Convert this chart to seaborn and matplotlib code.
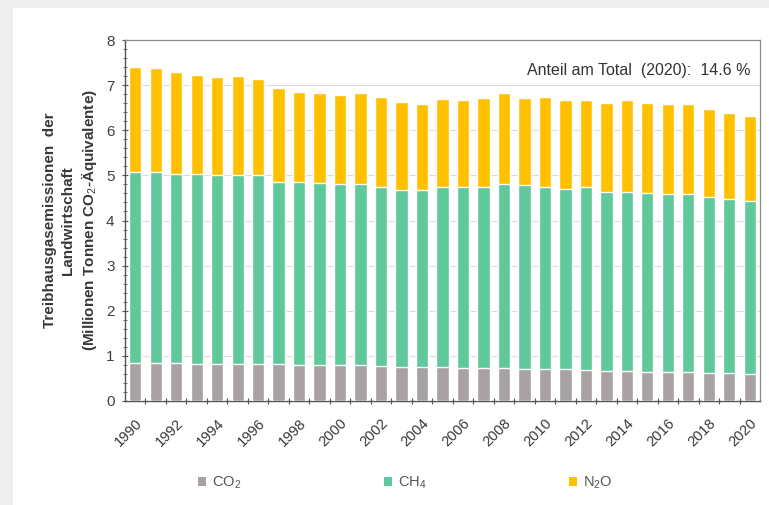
import matplotlib
matplotlib.use("Agg")
import matplotlib.pyplot as plt
import matplotlib.patches as mpatches
from matplotlib.ticker import MultipleLocator, FixedLocator
import numpy as np
import pandas as pd
import seaborn as sns

years = list(range(1990, 2021))
co2 = [0.85, 0.84, 0.84, 0.83, 0.82, 0.82, 0.82, 0.81, 0.80, 0.80, 0.79,
       0.79, 0.77, 0.76, 0.75, 0.75, 0.74, 0.73, 0.73, 0.71, 0.71, 0.70,
       0.69, 0.67, 0.66, 0.65, 0.64, 0.64, 0.62, 0.61, 0.60]
co2_ch4 = [5.07, 5.08, 5.04, 5.02, 5.00, 5.00, 5.00, 4.85, 4.85, 4.83, 4.80,
           4.80, 4.74, 4.67, 4.67, 4.74, 4.74, 4.74, 4.81, 4.78, 4.74, 4.70,
           4.74, 4.63, 4.63, 4.62, 4.59, 4.58, 4.52, 4.48, 4.44]
total = [7.41, 7.37, 7.30, 7.22, 7.18, 7.20, 7.13, 6.93, 6.85, 6.82, 6.78,
         6.82, 6.74, 6.63, 6.59, 6.69, 6.68, 6.72, 6.82, 6.72, 6.74, 6.68,
         6.68, 6.61, 6.67, 6.61, 6.58, 6.58, 6.47, 6.38, 6.31]
series_labels = ["CO$_2$", "CH$_4$", "N$_2$O"]
colors = ["#a8a2a2", "#5fc99b", "#ffc000"]
ylabel = "Treibhausgasemissionen  der\nLandwirtschaft\n(Millionen Tonnen CO$_2$-Äquivalente)"
note = "Anteil am Total  (2020):  14.6 %"

df = pd.DataFrame({"year": [str(y) for y in years], "co2": co2,
                   "co2_ch4": co2_ch4, "total": total})

sns.set_theme(style="white")
plt.rcParams["font.family"] = ["Liberation Sans", "DejaVu Sans"]
plt.rcParams["mathtext.fontset"] = "custom"
plt.rcParams["mathtext.rm"] = "Liberation Sans"
plt.rcParams["mathtext.it"] = "Liberation Sans"
plt.rcParams["mathtext.bf"] = "Liberation Sans:bold"

fig = plt.figure(figsize=(7.69, 5.05), dpi=100, facecolor="#efefef")
card = mpatches.Rectangle((13 / 769, 0), 1, 1 - 8 / 505, transform=fig.transFigure,
                          facecolor="white", edgecolor="none", zorder=-10)
fig.patches.append(card)

ax = fig.add_axes([125 / 769, 1 - 401 / 505, 635 / 769, 361 / 505])
ax.set_zorder(5)
ax.set_facecolor("white")

sns.barplot(data=df, x="year", y="total", color=colors[2], width=0.6,
            saturation=1, ax=ax, zorder=3)
sns.barplot(data=df, x="year", y="co2_ch4", color=colors[1], width=0.6,
            saturation=1, ax=ax, zorder=3)
sns.barplot(data=df, x="year", y="co2", color=colors[0], width=0.6,
            saturation=1, ax=ax, zorder=3)

ax.set_xlim(-0.5, len(years) - 0.5)
ax.set_ylim(0, 8)
ax.yaxis.set_major_locator(MultipleLocator(1))
ax.yaxis.set_minor_locator(MultipleLocator(0.2))
ax.grid(axis="y", which="major", color="#dcdcdc", linewidth=0.8, zorder=0)
ax.set_axisbelow(True)

ax.set_xticks(range(len(years)))
ax.set_xticklabels([str(y) if y % 2 == 0 else "" for y in years],
                   rotation=45, ha="right", rotation_mode="anchor",
                   fontsize=10.5, color="#383838")
ax.xaxis.set_minor_locator(FixedLocator(np.arange(0.5, len(years) - 0.5, 1)))
ax.tick_params(axis="x", which="major", length=0, pad=11)
ax.tick_params(axis="x", which="minor", length=5, width=0.8, color="#555555",
               direction="inout", bottom=True)
ax.tick_params(axis="y", which="major", length=5, width=0.8, color="#555555",
               direction="inout", left=True, labelsize=11, labelcolor="#404040", pad=5)
ax.tick_params(axis="y", which="minor", length=3, width=0.6, color="#555555",
               direction="inout", left=True)

for s in ["top", "right"]:
    ax.spines[s].set_color("#8c8c8c")
    ax.spines[s].set_linewidth(0.9)
for s in ["left", "bottom"]:
    ax.spines[s].set_color("#555555")
    ax.spines[s].set_linewidth(1.0)

ax.set_xlabel("")
ax.set_ylabel(ylabel, fontsize=11, fontweight="bold", color="#383838",
              linespacing=1.3, labelpad=5)

ax.text(0.985, 0.915, note, transform=ax.transAxes, ha="right", va="center",
        fontsize=11.5, color="#333333", zorder=5)

handles = [mpatches.Patch(facecolor=c, edgecolor="none") for c in colors]
fig.legend(handles, series_labels, loc="center", bbox_to_anchor=(0.527, 0.044),
           ncol=3, frameon=False, fontsize=10.5, handlelength=0.55, handleheight=0.55,
           handletextpad=0.4, columnspacing=9.8, labelcolor="#555555")

fig.savefig("out.png", dpi=100, facecolor=fig.get_facecolor())
